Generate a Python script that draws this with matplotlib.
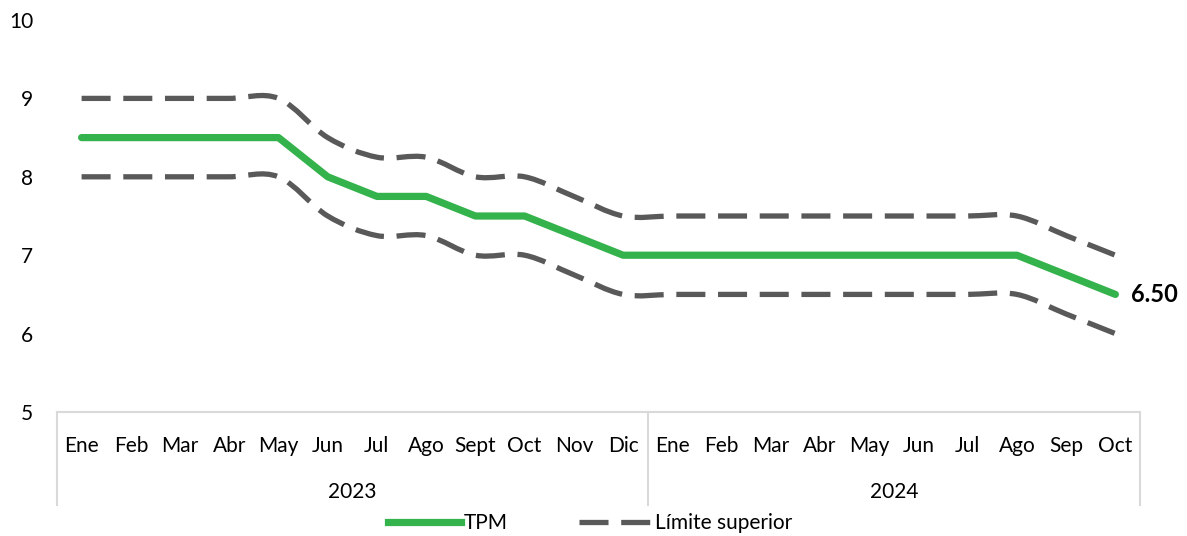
import numpy as np
import matplotlib.pyplot as plt
from matplotlib.path import Path
from matplotlib.patches import PathPatch
from matplotlib.lines import Line2D

plt.rcParams['font.family'] = ['Lato', 'DejaVu Sans']

# ---------------------------
# Data
# ---------------------------
months = ["Ene", "Feb", "Mar", "Abr", "May", "Jun", "Jul", "Ago", "Sept", "Oct", "Nov", "Dic",
          "Ene", "Feb", "Mar", "Abr", "May", "Jun", "Jul", "Ago", "Sep", "Oct"]
years = ["2023", "2024"]
year_counts = [12, 10]

tpm = [8.5, 8.5, 8.5, 8.5, 8.5, 8.0, 7.75, 7.75, 7.5, 7.5, 7.25, 7.0,
       7.0, 7.0, 7.0, 7.0, 7.0, 7.0, 7.0, 7.0, 6.75, 6.5]
upper = [9.0, 9.0, 9.0, 9.0, 9.0, 8.5, 8.25, 8.25, 8.0, 8.0, 7.75, 7.5,
         7.5, 7.5, 7.5, 7.5, 7.5, 7.5, 7.5, 7.5, 7.25, 7.0]
lower = [8.0, 8.0, 8.0, 8.0, 8.0, 7.5, 7.25, 7.25, 7.0, 7.0, 6.75, 6.5,
         6.5, 6.5, 6.5, 6.5, 6.5, 6.5, 6.5, 6.5, 6.25, 6.0]

GREEN = "#34b24b"
GRAY = "#595959"
AXIS = "#d9d9d9"
FS = 15


def smooth_path(y):
    # Excel-like smoothed line: cubic bezier through every point
    x = np.arange(len(y), dtype=float)
    y = np.asarray(y, dtype=float)
    pts = np.column_stack([x, y])
    n = len(pts)
    verts = [pts[0]]
    codes = [Path.MOVETO]
    for i in range(n - 1):
        p0 = pts[max(i - 1, 0)]
        p1 = pts[i]
        p2 = pts[i + 1]
        p3 = pts[min(i + 2, n - 1)]
        c1 = p1 + (p2 - p0) / 6
        c2 = p2 - (p3 - p1) / 6
        verts += [c1, c2, p2]
        codes += [Path.CURVE4] * 3
    return Path(verts, codes)


fig = plt.figure(figsize=(11.87, 5.36), dpi=100)
ax = fig.add_axes([0.048, 0.2313, 0.9124, 0.7314])

x = np.arange(len(months))
dash = (0, (5.5, 2.4))
for series in (upper, lower):
    patch = PathPatch(smooth_path(series), fill=False, edgecolor=GRAY,
                      linewidth=3.8, linestyle=dash, capstyle="butt", zorder=2)
    ax.add_patch(patch)

ax.plot(x, tpm, color=GREEN, linewidth=5.2, solid_capstyle="round",
        solid_joinstyle="round", zorder=3)

ax.annotate(f"{tpm[-1]:.2f}", (x[-1], tpm[-1]), xytext=(11, 0),
            textcoords="offset points", va="center", ha="left",
            fontsize=17, fontweight="bold", color="black")

ax.set_xlim(-0.5, len(months) - 0.5)
ax.set_ylim(5, 10)
ax.set_yticks(range(5, 11))
ax.tick_params(axis="y", length=0, pad=17, labelsize=FS)
ax.set_xticks(x)
ax.set_xticklabels(months)
ax.tick_params(axis="x", length=0, pad=17, labelsize=FS)

for side in ("top", "right", "left"):
    ax.spines[side].set_visible(False)
ax.spines["bottom"].set_color(AXIS)
ax.spines["bottom"].set_linewidth(1.5)

# multi-level category axis
trans = ax.get_xaxis_transform()
edge = -0.5
for yr, cnt in zip(years, year_counts):
    ax.text(edge + cnt / 2, -0.205, yr, transform=trans, ha="center",
            va="center", fontsize=FS)
    edge += cnt
bounds = np.cumsum([0] + year_counts) - 0.5
for b in bounds:
    ax.plot([b, b], [0, -0.237], transform=trans, color=AXIS,
            linewidth=1.5, clip_on=False)

handles = [Line2D([], [], color=GREEN, linewidth=5.2),
           Line2D([], [], color=GRAY, linewidth=3.8, linestyle=dash)]
fig.legend(handles, ["TPM", "Límite superior"], loc="center",
           bbox_to_anchor=(0.497, 0.024), ncol=2, frameon=False,
           fontsize=FS, handlelength=3.5, handletextpad=0.15,
           columnspacing=3.4)

fig.savefig("out.png", dpi=100)
